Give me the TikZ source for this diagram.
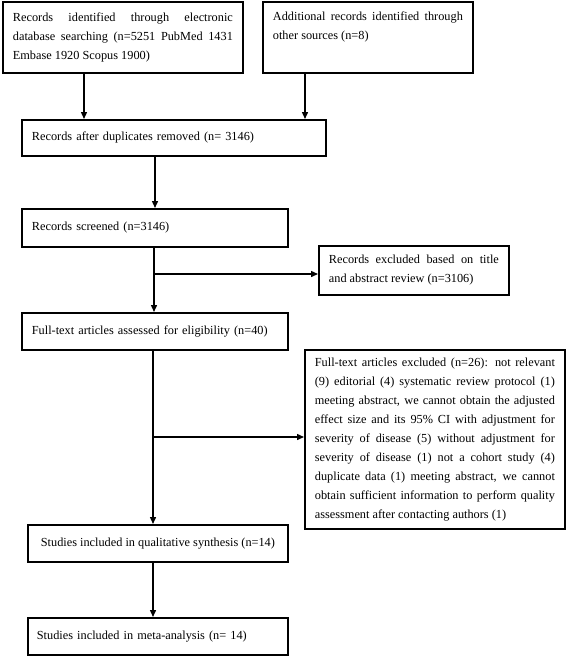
\documentclass[tikz,border=0pt]{standalone}
\usepackage{fontspec}
\setmainfont{Liberation Serif}
\usetikzlibrary{arrows.meta}
\hyphenpenalty=10000
\exhyphenpenalty=10000
\tolerance=9999
\tikzset{
  box/.style={draw, line width=1.8pt, inner sep=0pt, anchor=north west,
    font=\fontsize{12.3pt}{19pt}\selectfont},
  arr/.style={line width=1.4pt, -{Triangle[length=7pt,width=6pt]}},
}
\begin{document}
\begin{tikzpicture}[x=1pt,y=-1pt]
\useasboundingbox (0,0) rectangle (567,657);
\node[box, minimum width=240pt, minimum height=71pt, text width=220pt, align=justify] (b1) at (2,1)
  {Records identified through electronic database searching (n=5251 PubMed 1431 Embase 1920 Scopus 1900)};
\node[box, minimum width=210pt, minimum height=71pt, align=justify] (b2) at (262,1)
  {\parbox[c][51pt][t]{190pt}{Additional records identified through other sources (n=8)}};
\node[box, minimum width=304pt, minimum height=36pt, text width=284pt, align=left] (b3) at (21,119)
  {Records after duplicates removed (n= 3146)};
\node[box, minimum width=266pt, minimum height=38pt, text width=246pt, align=left] (b4) at (21,208)
  {Records screened (n=3146)};
\node[box, minimum width=190pt, minimum height=49pt, text width=170pt, align=justify] (e1) at (318,245)
  {Records excluded based on title and abstract review (n=3106)};
\node[box, minimum width=266pt, minimum height=37pt, text width=246pt, align=left] (b5) at (21,312)
  {Full-text articles assessed for eligibility (n=40)};
\node[box, minimum width=260pt, minimum height=179pt, text width=240pt, align=justify] (e2) at (304,349)
  {Full-text articles excluded (n=26): not relevant (9) editorial (4) systematic review protocol (1) meeting abstract, we cannot obtain the adjusted effect size and its 95\% CI with adjustment for severity of disease (5) without adjustment for severity of disease (1) not a cohort study (4) duplicate data (1) meeting abstract, we cannot obtain sufficient information to perform quality assessment after contacting authors (1)};
\node[box, minimum width=260pt, minimum height=37pt, align=center] (b6) at (27,524)
  {Studies included in qualitative synthesis (n=14)};
\node[box, minimum width=260pt, minimum height=37pt, text width=242pt, align=left] (b7) at (27,617)
  {Studies included in meta-analysis (n= 14)};
\coordinate (c1) at (84,0);
\coordinate (c2) at (305,0);
\coordinate (c3) at (155,0);
\coordinate (c4) at (154,0);
\coordinate (c5) at (153,0);
\coordinate (j1) at (154,274);
\coordinate (j2) at (153,437);
\draw[arr] (b1.south -| c1) -- (b3.north -| c1);
\draw[arr] (b2.south -| c2) -- (b3.north -| c2);
\draw[arr] (b3.south -| c3) -- (b4.north -| c3);
\draw[arr] (b4.south -| c4) -- (b5.north -| c4);
\draw[arr] (j1) -- (j1 -| e1.west);
\draw[arr] (b5.south -| c5) -- (b6.north -| c5);
\draw[arr] (j2) -- (j2 -| e2.west);
\draw[arr] (b6.south -| c5) -- (b7.north -| c5);
\end{tikzpicture}
\end{document}
